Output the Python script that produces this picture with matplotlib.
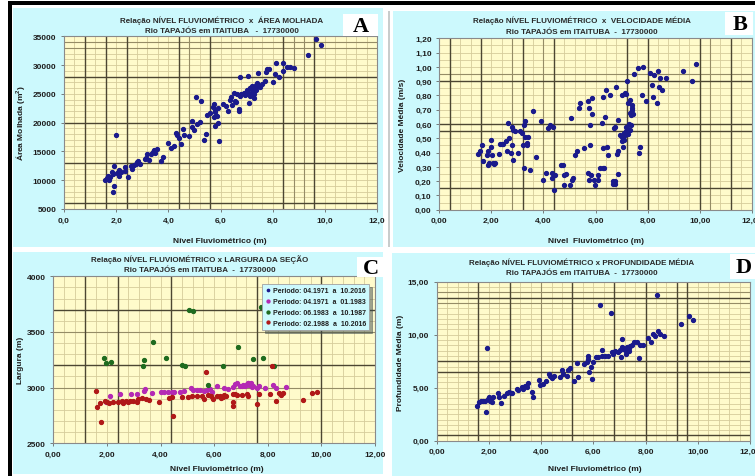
import matplotlib
matplotlib.use("Agg")
import matplotlib.pyplot as plt
from matplotlib.patches import Rectangle
from matplotlib.ticker import FuncFormatter, MultipleLocator
import numpy as np

plt.rcParams['font.family'] = ['Liberation Sans', 'DejaVu Sans']

# ---------------- DATA ----------------
A_nivel = [1.57,1.63,1.70,1.75,1.72,1.85,1.90,1.88,1.90,1.87,2.00,2.05,2.10,2.12,2.18,2.35,2.33,2.45,2.55,2.62,
           2.70,2.75,2.80,2.85,2.90,3.10,3.15,3.20,3.25,3.35,3.40,3.45,3.50,3.55,3.70,3.80,4.00,4.10,4.20,4.30,
           4.35,4.40,4.50,4.55,4.60,4.80,4.90,4.92,5.00,5.05,5.10,5.20,5.25,5.35,5.45,5.50,5.60,5.70,5.75,5.80,
           5.85,5.79,5.92,5.95,5.75,5.80,5.90,6.10,6.20,6.30,6.35,6.40,6.50,6.55,6.60,6.70,6.75,6.80,6.75,6.90,
           7.00,7.07,7.10,7.15,7.15,7.20,7.25,7.30,7.35,7.40,7.45,7.50,7.30,7.20,7.10,7.60,7.70,7.77,7.74,7.85,
           8.00,8.09,8.13,8.26,8.39,8.41,8.54,8.67,8.80,9.35,9.65,9.85,7.25,7.35,7.45,7.05,6.95,7.15,6.65,6.70,6.45]
A_area = [10100,10300,10700,10600,10100,11500,12400,11000,9000,8000,17800,11200,11800,10800,11400,12300,11600,10500,12500,11900,
          12700,12800,13100,13300,12900,13600,13800,14500,13500,14500,14900,15300,14700,15500,13300,14000,16500,15600,15900,18200,
          17800,17400,16300,18900,17800,17700,20200,19300,18800,24400,19800,20100,23700,17000,18000,21300,21700,22800,23200,22200,
          21200,19500,19900,16800,21000,21800,22500,23300,22900,22000,24000,24400,25200,23800,23600,22400,24600,25000,28000,25200,
          25600,28100,23500,26100,26000,25800,25400,24200,26500,26900,28700,26200,25000,26400,25200,26700,27300,29300,28800,29300,
          27100,28500,30300,27900,29000,30300,29600,29600,29500,31700,34600,33500,26000,25600,26300,25000,24800,24700,24900,22000,23000]

B_nivel = [1.50,1.56,1.65,1.69,1.82,1.86,1.88,1.90,1.98,2.00,2.03,2.07,2.10,2.13,2.29,2.33,2.40,2.46,2.55,2.60,
           2.65,2.69,2.75,2.78,2.80,2.84,2.84,2.90,3.03,3.10,3.16,3.23,3.26,3.26,3.31,3.31,3.35,3.35,3.39,3.48,
           3.61,3.70,3.89,3.97,4.08,4.16,4.25,4.31,4.34,4.38,4.42,4.44,4.67,4.76,4.78,4.80,4.85,5.02,5.06,5.11,
           5.15,5.21,5.29,5.36,5.40,5.57,5.70,5.72,5.74,5.76,5.79,5.79,5.81,5.85,5.88,5.95,5.98,6.08,6.11,6.17,
           6.24,6.27,6.34,6.36,6.40,6.43,6.47,6.57,6.72,6.75,6.75,6.75,6.77,6.81,6.85,6.85,6.88,6.94,7.00,7.00,
           7.03,7.07,7.11,7.13,7.16,7.21,7.26,7.26,7.31,7.31,7.32,7.36,7.39,7.42,7.45,7.49,7.64,7.67,7.71,7.77,
           7.81,7.93,8.09,8.16,8.22,8.26,8.35,8.41,8.44,8.48,8.57,8.69,9.37,9.69,9.85,7.05,7.09,7.14,7.18,7.22,
           7.29,7.35,7.19,7.42,6.68,6.68,6.29,6.28]
B_vel = [0.39,0.41,0.45,0.34,0.38,0.41,0.31,0.33,0.49,0.44,0.38,0.33,0.32,0.33,0.39,0.46,0.46,0.46,0.48,0.41,
         0.61,0.50,0.40,0.45,0.58,0.56,0.35,0.55,0.40,0.55,0.54,0.45,0.29,0.59,0.62,0.51,0.45,0.47,0.51,0.28,
         0.69,0.37,0.62,0.21,0.26,0.57,0.59,0.26,0.22,0.58,0.14,0.24,0.31,0.31,0.17,0.24,0.25,0.17,0.64,0.21,
         0.22,0.38,0.41,0.71,0.75,0.43,0.76,0.26,0.21,0.71,0.45,0.59,0.24,0.78,0.67,0.21,0.17,0.24,0.21,0.29,
         0.61,0.79,0.29,0.65,0.84,0.44,0.38,0.80,0.57,0.58,0.18,0.20,0.86,0.39,0.41,0.25,0.63,0.52,0.80,0.51,
         0.48,0.44,0.54,0.82,0.58,0.90,0.75,0.53,0.56,0.68,0.77,0.59,0.70,0.73,0.67,0.95,0.99,0.40,0.44,0.80,
         1.00,0.76,0.96,0.87,0.79,0.94,0.75,0.97,0.86,0.92,0.84,0.92,0.97,0.90,1.02,0.50,0.49,0.52,0.55,0.57,
         0.60,0.66,0.81,0.71,0.20,0.18,0.29,0.43]

C_leg = ['Periodo: 04.1971  a  10.2016', 'Periodo: 04.1971  a  01.1983',
         'Periodo: 06.1983  a  10.1987', 'Periodo: 02.1988  a  10.2016']
C1_nivel = []   # full period (hidden behind the others)
C1_larg = []
C2_nivel = [1.97,2.11,2.49,2.89,3.11,3.38,3.42,3.69,4.00,4.13,4.29,4.42,4.50,4.73,4.89,5.14,5.22,5.37,5.47,5.62,
            5.72,5.85,5.91,6.12,6.37,6.53,6.72,6.78,6.87,6.97,7.03,7.09,7.15,7.21,7.28,7.31,7.36,7.40,7.46,7.59,
            7.68,7.90,8.18,8.31,8.68,7.25,7.33]
C2_larg = [2874,2928,2940,2946,2946,2973,2988,2952,2958,2958,2958,2964,2964,2964,2967,2994,2982,2979,2979,2973,
           2982,2988,2958,3018,2994,2988,3003,3033,3042,3018,3012,3027,3018,3033,3042,3024,3039,3003,3018,2997,
           3012,2997,3027,2997,3003,3045,3030]
C3_nivel = [1.89,1.97,2.14,3.33,3.38,3.73,4.20,4.79,4.91,5.05,5.22,5.76,6.34,6.88,7.44,7.75,7.81,8.25]
C3_larg = [3263,3218,3234,3195,3251,3407,3263,3207,3192,3700,3692,3024,3192,3368,3257,3722,3263,3192]
C4_nivel = [1.59,1.64,1.74,1.77,1.93,2.01,2.09,2.21,2.43,2.55,2.61,2.71,2.80,2.86,2.96,3.13,3.17,3.30,3.46,3.57,
            3.94,4.33,4.42,4.46,4.79,5.04,5.16,5.35,5.53,5.62,5.68,5.78,5.87,5.97,6.09,6.22,6.26,6.32,6.37,6.44,
            6.72,6.72,6.72,6.78,6.87,7.03,7.21,7.28,7.59,7.68,8.08,8.15,8.31,8.43,8.48,8.58,9.33,9.66,9.83]
C4_larg = [2967,2829,2859,2695,2877,2868,2862,2868,2874,2883,2862,2877,2868,2883,2883,2874,2898,2904,2898,2892,
           2868,2907,2913,2743,2913,2913,2922,2928,2922,2898,3144,2934,2928,2898,2928,2922,2904,2913,2934,2928,
           2943,2868,2838,2943,2937,2934,2943,2928,2853,2943,2943,3192,2883,2952,2937,2952,2892,2952,2964]

D_nivel = [1.53,1.62,1.70,1.79,1.85,1.92,1.89,1.95,2.00,2.04,2.08,2.13,2.17,2.34,2.39,2.45,2.59,2.68,2.77,2.85,
           2.90,3.07,3.13,3.26,3.32,3.38,3.45,3.51,3.64,3.70,3.92,3.95,4.09,4.18,4.30,4.34,4.41,4.51,4.73,4.81,
           4.85,4.98,5.04,5.11,5.27,5.36,5.43,5.66,5.75,5.79,5.81,5.84,5.91,5.94,6.00,6.09,6.17,6.26,6.32,6.35,
           6.45,6.58,6.68,6.73,6.77,6.83,6.96,7.06,7.09,7.11,7.19,7.24,7.28,7.32,7.37,7.41,7.47,7.57,7.66,7.75,
           7.79,7.92,8.08,8.21,8.30,8.37,8.47,8.43,8.56,8.69,9.36,9.67,9.83,7.02,7.15,7.22,7.30,7.35]
D_prof = [3.30,3.62,3.71,3.77,3.71,8.71,2.74,3.93,4.09,3.77,4.02,3.62,4.09,4.50,4.09,3.55,4.25,4.50,4.62,4.50,
          4.50,4.87,4.81,5.03,4.87,5.19,5.03,5.44,4.56,4.09,5.75,5.28,5.35,5.66,6.29,6.07,5.88,6.07,5.97,6.70,
          6.29,6.07,6.70,6.82,5.66,7.33,6.04,7.23,7.45,7.96,7.70,6.51,6.92,5.82,7.45,7.86,7.86,12.80,8.58,8.02,
          7.96,8.02,12.04,8.40,8.18,8.49,8.40,7.86,9.59,8.81,8.65,8.18,8.71,8.81,8.49,8.90,9.03,9.28,9.28,7.77,
          9.03,9.03,9.65,9.28,10.06,9.84,10.38,13.74,10.06,9.91,11.00,11.73,11.38,8.60,8.75,8.55,8.85,8.70]

# ---------------- STYLE ----------------
W, H = 755, 477
fig = plt.figure(figsize=(W/100, H/100), dpi=100)
fig.patch.set_facecolor('white')

CYAN = '#CCF9FD'
PLOT = '#FFFBCB'
MINOR = '#D6CC9A'
MED = '#958C66'
DARK = '#4C4632'
NAVY = '#1A1A8C'
TXT = '#1E1E1E'

def rect(l, t, r, b, color, z=-5, ec='none', lw=0):
    fig.patches.append(Rectangle((l/W, 1-b/H), (r-l)/W, (b-t)/H, transform=fig.transFigure,
                                 facecolor=color, edgecolor=ec, linewidth=lw, zorder=z))

def ftext(x, y, s, **kw):
    fig.text(x/W, 1-y/H, s, **kw)

# frame lines
rect(9, 2, 755, 5.5, 'black')
rect(8, 2, 11.5, 477, 'black')
# panel backgrounds
rect(13, 9, 383, 248, CYAN)
rect(393, 12, 755, 248, CYAN)
rect(13, 253, 383, 475, CYAN)
rect(392, 254, 755, 477, CYAN)
rect(388, 12, 390, 248, '#C8CCCC')

def mkax(l, t, r, b):
    return fig.add_axes([l/W, 1-b/H, (r-l)/W, (b-t)/H])

def setup(ax, xlim, ylim, xmaj, ymaj, xmin, ymin, xfmt, yfmt, darkx, darky, medx, medy):
    ax.set_facecolor(PLOT)
    ax.set_xlim(*xlim); ax.set_ylim(*ylim)
    ax.xaxis.set_major_locator(MultipleLocator(xmaj))
    ax.yaxis.set_major_locator(MultipleLocator(ymaj))
    ax.xaxis.set_minor_locator(MultipleLocator(xmin))
    ax.yaxis.set_minor_locator(MultipleLocator(ymin))
    ax.xaxis.set_major_formatter(FuncFormatter(xfmt))
    ax.yaxis.set_major_formatter(FuncFormatter(yfmt))
    ax.grid(which='both', color=MINOR, lw=0.6, zorder=0)
    ax.set_axisbelow(True)
    for v in medx: ax.axvline(v, color=MED, lw=0.8, zorder=1)
    for v in medy: ax.axhline(v, color=MED, lw=0.8, zorder=1)
    for v in darkx: ax.axvline(v, color=DARK, lw=1.0, zorder=1)
    for v in darky: ax.axhline(v, color=DARK, lw=1.0, zorder=1)
    for s in ax.spines.values():
        s.set_color('#8A8A8A'); s.set_linewidth(0.8)
    ax.tick_params(which='major', length=2.5, width=0.6, color='#666666', labelsize=6,
                   labelcolor=TXT, pad=3)
    ax.tick_params(which='minor', length=0)
    for lab in ax.get_xticklabels() + ax.get_yticklabels():
        lab.set_fontweight('bold')

f1 = lambda v, p: f"{v:.1f}".replace('.', ',')
f2 = lambda v, p: f"{v:.2f}".replace('.', ',')
f0 = lambda v, p: f"{v:.0f}"

MS = 2.8

# ---- Panel A
axA = mkax(64, 37.3, 377, 210)
setup(axA, (0, 12), (5000, 35000), 2, 5000, 0.4, 1000, f1, f0,
      [0.8, 1.6, 2.4, 4.4, 5.6, 8.4, 9.6], [6000, 13000, 20000, 28000],
      [4.8, 8.8, 9.2], [33000, 34000])
axA.plot(A_nivel, A_area, 'o', ms=MS, color=NAVY, mec=NAVY, ls='none', zorder=3, clip_on=False)

# ---- Panel B
axB = mkax(439.3, 39.3, 751.7, 210.7)
setup(axB, (0, 12), (0, 1.2), 2, 0.1, 0.4, 0.05, f2, f2,
      [0.4, 1.6, 3.2, 4.4, 7.2, 8.0, 10.0, 11.2], [0.15, 0.55, 0.60, 0.90],
      [2.8, 4.0, 10.4], [0.95])
axB.plot(B_nivel, B_vel, 'o', ms=MS, color=NAVY, mec=NAVY, ls='none', zorder=3)

# ---- Panel C
axC = mkax(53.3, 277.3, 375, 444.3)
setup(axC, (0, 12), (2500, 4000), 2, 500, 0.4, 100, f2, f0,
      [1.2, 2.4, 4.4, 7.6, 10.0], [3200, 3700],
      [], [3500, 3000])
axC.plot(C1_nivel, C1_larg, 'o', ms=2.2, color=NAVY, ls='none', label=C_leg[0], zorder=3)
axC.plot(C2_nivel, C2_larg, 'o', ms=MS, color='#B42AB4', ls='none', label=C_leg[1], zorder=3)
axC.plot(C3_nivel, C3_larg, 'o', ms=MS, color='#1F6B1F', ls='none', label=C_leg[2], zorder=3)
axC.plot(C4_nivel, C4_larg, 'o', ms=MS, color='#B01818', ls='none', label=C_leg[3], zorder=3)
leg = axC.legend(loc='upper right', bbox_to_anchor=(0.993, 0.975), frameon=True,
                 fancybox=False, shadow=True, markerscale=0.75, handlelength=0.6, handletextpad=0.4,
                 labelspacing=0.55, borderpad=0.5, prop={'weight': 'bold', 'size': 5})
leg.get_frame().set_facecolor(CYAN)
leg.get_frame().set_edgecolor('#A0A0A0')
leg.get_frame().set_linewidth(0.6)
leg.get_frame().set_alpha(1)
for t in leg.get_texts():
    t.set_color(TXT)

# ---- Panel D
axD = mkax(436.7, 282.7, 750, 441.7)
setup(axD, (0, 12), (0, 15), 2, 5, 0.4, 0.5, f2, f2,
      [1.6, 2.8, 5.2, 6.8, 8.0, 9.2, 9.6], [0.5, 6.5, 7.5, 13.5],
      [4.0], [13.0, 14.0])
axD.plot(D_nivel, D_prof, 'o', ms=MS, color=NAVY, mec=NAVY, ls='none', zorder=3)

# ---- titles / labels
TK = dict(ha='center', va='center', fontsize=5.8, fontweight='bold', color='#2A2A2A')
ftext(222, 20.5, 'Relação NÍVEL FLUVIOMÉTRICO  x  ÁREA MOLHADA', **TK)
ftext(222, 31.5, 'Rio TAPAJÓS em ITAITUBA   -  17730000', **TK)
ftext(582, 21, 'Relação NÍVEL FLUVIOMÉTRICO  x  VELOCIDADE MÉDIA', **TK)
ftext(582, 32, 'Rio TAPAJÓS em ITAITUBA  -  17730000', **TK)
ftext(200, 260, 'Relação NÍVEL FLUVIOMÉTRICO x LARGURA DA SEÇÃO', **TK)
ftext(200, 270.5, 'Rio TAPAJÓS em ITAITUBA  -  17730000', **TK)
ftext(582, 263, 'Relação NÍVEL FLUVIOMÉTRICO x PROFUNDIDADE MÉDIA', **TK)
ftext(582, 273.5, 'Rio TAPAJÓS em ITAITUBA  -  17730000', **TK)

LB = dict(ha='center', va='center', fontsize=6, fontweight='bold', color=TXT)
ftext(220, 242, 'Nível Fluviométrico (m)', **LB)
ftext(596, 242, 'Nível  Fluviométrico (m)', **LB)
ftext(217, 470, 'Nível Fluviométrico (m)', **LB)
ftext(595, 470, 'Nível Fluviométrico (m)', **LB)
ftext(21, 123, 'Área Molhada (m$^\\mathregular{2}$)', rotation=90, **LB)
ftext(403, 125, 'Velocidade Média (m/s)', rotation=90, **LB)
ftext(20, 360, 'Largura (m)', rotation=90, **LB)
ftext(400, 363, 'Profundidade Média (m)', rotation=90, **LB)

# ---- panel letters
LT = dict(ha='center', va='center', fontsize=16, fontweight='bold', color='black',
          family=['Liberation Serif', 'DejaVu Serif'], zorder=10)
rect(343, 15, 378, 37, 'white', z=4)
ftext(361, 26.5, 'A', **LT)
rect(725, 13, 753, 36, 'white', z=4)
ftext(740, 25, 'B', **LT)
rect(357, 258, 383, 278, 'white', z=4)
ftext(371, 268.5, 'C', **LT)
rect(730, 255, 755, 280, 'white', z=4)
ftext(744, 268, 'D', **LT)

fig.savefig('out.png', dpi=100, facecolor='white')
